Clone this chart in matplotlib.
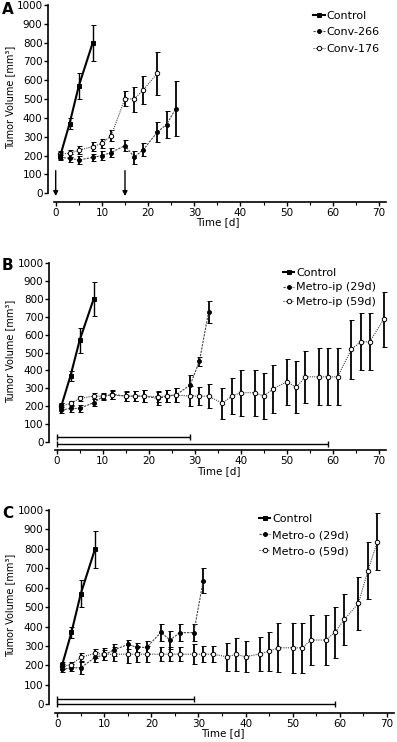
import matplotlib
matplotlib.use("Agg")
import matplotlib.pyplot as plt
from matplotlib.ticker import MultipleLocator
from matplotlib.lines import Line2D

plt.rcParams['font.family'] = ['DejaVu Sans']

# ---------------- data ----------------
ctrl_days = [1, 3, 5, 8]
ctrl_vol = [200, 370, 570, 798]
ctrl_err = [20, 28, 70, 95]

# Panel A
a1_label = "Conv-266"
a1_days = [1, 3, 5, 8, 10, 12, 15, 17, 19, 22, 24, 26]
a1_vol = [190, 186, 177, 190, 200, 216, 253, 192, 232, 325, 365, 450]
a1_err = [15, 20, 20, 20, 25, 25, 30, 35, 35, 55, 72, 145]

a2_label = "Conv-176"
a2_days = [1, 3, 5, 8, 10, 12, 15, 17, 19, 22]
a2_vol = [208, 212, 228, 248, 265, 305, 503, 500, 550, 637]
a2_err = [15, 18, 22, 25, 25, 30, 40, 67, 75, 115]

arrow_days = [0, 15]

# Panel B
b1_label = "Metro-ip (29d)"
b1_days = [1, 3, 5, 8, 10, 12, 15, 17, 19, 22, 24, 26, 29, 31, 33]
b1_vol = [178, 187, 187, 219, 252, 266, 256, 256, 256, 243, 256, 264, 318, 452, 728]
b1_err = [15, 18, 18, 20, 18, 25, 28, 30, 35, 35, 35, 40, 55, 25, 60]

b2_label = "Metro-ip (59d)"
b2_days = [1, 3, 5, 8, 10, 12, 15, 17, 19, 22, 24, 26, 29, 31, 33, 36, 38, 40,
           43, 45, 47, 50, 52, 54, 57, 59, 61, 64, 66, 68, 71]
b2_vol = [200, 215, 243, 256, 256, 262, 256, 256, 256, 252, 256, 262, 256, 256, 256, 215, 256, 275,
          275, 256, 297, 336, 305, 364, 364, 364, 364, 518, 560, 560, 686]
b2_err = [15, 15, 15, 15, 15, 20, 25, 30, 35, 30, 35, 40, 56, 50, 68, 85, 100, 130,
          130, 130, 135, 130, 145, 145, 160, 160, 160, 165, 160, 160, 155]

b_bars = [(0, 29, 25), (0, 59, -10)]

# Panel C
c1_label = "Metro-o (29d)"
c1_days = [1, 3, 5, 8, 10, 12, 15, 17, 19, 22, 24, 26, 29, 31]
c1_vol = [180, 188, 188, 242, 254, 280, 308, 293, 293, 370, 331, 369, 369, 636]
c1_err = [15, 18, 30, 25, 25, 30, 25, 25, 35, 42, 45, 45, 45, 65]

c2_label = "Metro-o (59d)"
c2_days = [1, 3, 5, 8, 10, 12, 15, 17, 19, 22, 24, 26, 29, 31, 33, 36, 38, 40,
           43, 45, 47, 50, 52, 54, 57, 59, 61, 64, 66, 68]
c2_vol = [195, 205, 242, 262, 258, 258, 258, 258, 258, 258, 258, 258, 258, 258, 258, 245, 257, 245,
          259, 274, 291, 291, 291, 331, 331, 370, 437, 520, 688, 837]
c2_err = [15, 15, 20, 25, 30, 35, 45, 40, 40, 35, 35, 35, 50, 40, 40, 72, 83, 80,
          85, 100, 125, 130, 130, 130, 130, 130, 130, 137, 145, 145]

c_bars = [(0, 29, 30), (0, 59, 0)]

# ---------------- figure ----------------
W, H = 397, 742
fig = plt.figure(figsize=(W / 100, H / 100), dpi=100)

STYLES = {
    'ctrl': dict(color='black', lw=1.5, ls='-', marker='s', ms=3, mfc='black', mec='black', mew=0.7),
    'filled': dict(color='#444444', lw=0.8, ls=(0, (2, 1)), marker='o', ms=2.8,
                   mfc='black', mec='black', mew=0.7),
    'open': dict(color='#444444', lw=0.8, ls=(0, (1, 1)), marker='o', ms=3.2,
                 mfc='white', mec='black', mew=0.7),
}


def make_axes(left_px, x0_px, px_per_day, top1000_px, xaxis_px, ybottom):
    xlim_l = -(x0_px - left_px) / px_per_day
    xlim_r = 72.0
    right_px = x0_px + xlim_r * px_per_day
    width_px = right_px - left_px
    ax = fig.add_axes([left_px / W, 1 - xaxis_px / H,
                       width_px / W, (xaxis_px - top1000_px) / H])
    ax.set_xlim(xlim_l, xlim_r)
    ax.set_ylim(ybottom, 1000)
    for s in ['top', 'right']:
        ax.spines[s].set_visible(False)
    ax.spines['left'].set_bounds(0, 1000)
    ax.spines['bottom'].set_bounds(-0.4, 71.5)
    ax.spines['left'].set_linewidth(1.2)
    ax.spines['bottom'].set_linewidth(1.2)
    ax.xaxis.set_major_locator(MultipleLocator(10))
    ax.xaxis.set_minor_locator(MultipleLocator(5))
    ax.yaxis.set_major_locator(MultipleLocator(100))
    ax.tick_params(axis='both', which='major', length=3, width=1, labelsize=7.5, pad=1.2)
    ax.tick_params(axis='x', which='minor', length=2, width=0.8)
    ax.set_xlabel("Time [d]", fontsize=7.5, labelpad=0)
    ax.set_ylabel("Tumor Volume [mm³]", fontsize=7)
    ax.yaxis.set_label_coords((15.0 - left_px) / width_px, 0.53)
    return ax


def draw_series(ax, days, vol, err, kind):
    st = STYLES[kind]
    ax.errorbar(days, vol, yerr=err, ecolor='black',
                elinewidth=1.0 if kind == 'ctrl' else 1.3,
                capsize=1.8, capthick=1.0, zorder=4 if kind == 'ctrl' else 3, **st)


def legend(ax, labels, x, y, spacing):
    handles = [Line2D([], [], **STYLES[k]) for k in ('ctrl', 'filled', 'open')]
    ax.legend(handles, labels, loc='upper left', bbox_to_anchor=(x, y), frameon=False,
              fontsize=8, handlelength=1.0, handletextpad=0.2, labelspacing=spacing,
              borderaxespad=0, borderpad=0)


def draw_bars(ax, bars):
    for x0, x1, y in bars:
        ax.errorbar([(x0 + x1) / 2], [y], xerr=[(x1 - x0) / 2], color='black', lw=0,
                    elinewidth=1.0, capsize=2, capthick=1.0, marker='none')


# Panel A
axA = make_axes(48.3, 55.7, 4.619, 5.0, 201.7, -45)
draw_series(axA, ctrl_days, ctrl_vol, ctrl_err, 'ctrl')
draw_series(axA, a1_days, a1_vol, a1_err, 'filled')
draw_series(axA, a2_days, a2_vol, a2_err, 'open')
for d in arrow_days:
    axA.annotate("", xy=(d, -15), xytext=(d, 120),
                 arrowprops=dict(arrowstyle='-|>', color='black', lw=1.0,
                                 mutation_scale=7, shrinkA=0, shrinkB=0))
legend(axA, ["Control", a1_label, a2_label], 0.78, 0.97, 0.58)

# Panel B
axB = make_axes(49.3, 56.7, 4.604, 263.3, 450.0, -46)
draw_series(axB, ctrl_days, ctrl_vol, ctrl_err, 'ctrl')
draw_series(axB, b1_days, b1_vol, b1_err, 'filled')
draw_series(axB, b2_days, b2_vol, b2_err, 'open')
draw_bars(axB, b_bars)
legend(axB, ["Control", b1_label, b2_label], 0.69, 0.975, 0.4)

# Panel C
axC = make_axes(49.3, 57.3, 4.706, 510.0, 712.7, -43)
draw_series(axC, ctrl_days, ctrl_vol, ctrl_err, 'ctrl')
draw_series(axC, c1_days, c1_vol, c1_err, 'filled')
draw_series(axC, c2_days, c2_vol, c2_err, 'open')
draw_bars(axC, c_bars)
legend(axC, ["Control", c1_label, c2_label], 0.605, 0.98, 0.55)

# panel letters
for lab, ypx in [("A", 9), ("B", 265), ("C", 514)]:
    fig.text(2 / W, 1 - ypx / H, lab, fontsize=11, fontweight='bold', va='center', ha='left')

fig.savefig("out.png", dpi=100)
